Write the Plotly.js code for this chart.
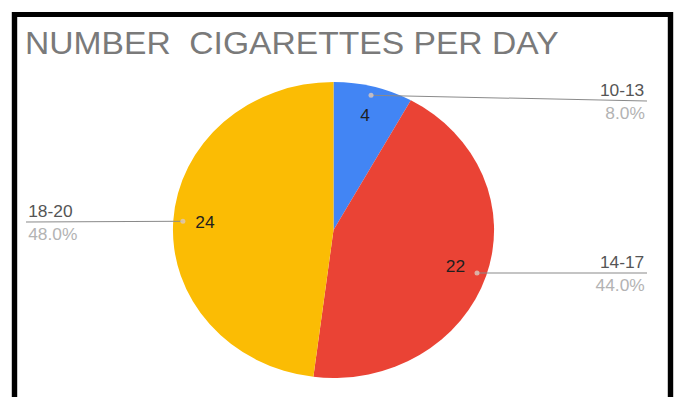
<!DOCTYPE html>
<html>
<head>
<meta charset="utf-8">
<script src="https://cdn.plot.ly/plotly-3.0.1.min.js"></script>
<style>
html,body{margin:0;padding:0;background:#fff;overflow:hidden;}
#chart{width:625px;height:397px;transform:scaleX(1.0848);transform-origin:0 0;}
</style>
</head>
<body>
<div id="chart"></div>
<script>
// ---- data ----
const categories = ['10-13', '14-17', '18-20'];
const values = [4, 22, 24];
const chartTitle = 'NUMBER\u00a0 CIGARETTES PER DAY';

// ---- styling / layout constants ----
const colors = ['#4285F4', '#EA4335', '#FBBC04'];
const SX = 1.0848;                 // horizontal stretch of the reference image
const W = 625, H = 397;            // internal plot size (before stretch)
const CX = 333.5, CY = 230, R = 148;   // pie centre (screen px) / radius
const labelLineY = [101, 273, 222];    // y of leader-line ends (px)
const rightX = 647, leftX = 26;        // screen px

const px = x => (x / SX) / W;      // screen px -> paper
const py = y => 1 - y / H;
const FONT = 'Liberation Sans, Arial, sans-serif';

const total = values.reduce((a, b) => a + b, 0);
const annotations = [];
const shapes = [];

// outer black frame
shapes.push({type: 'rect', xref: 'paper', yref: 'paper',
  x0: px(14.5), x1: px(670.5), y0: py(420), y1: py(14.5),
  line: {color: '#000', width: 5}, fillcolor: 'rgba(0,0,0,0)', layer: 'above'});

let cum = 0;
values.forEach((v, i) => {
  const mid = (cum + v / 2) / total * 2 * Math.PI;
  cum += v;
  const s = Math.sin(mid), c = Math.cos(mid);
  const RX = R * SX;
  // value label inside slice
  annotations.push({xref: 'paper', yref: 'paper',
    x: px(CX + 0.8 * RX * s), y: py(CY - 0.8 * R * c),
    text: String(v), showarrow: false, xanchor: 'center', yanchor: 'middle',
    font: {family: FONT, size: 16, color: '#1f1f1f'}});
  // leader line
  const dx = CX + 0.94 * RX * s, dy = CY - 0.94 * R * c;
  const right = s >= 0;
  const ex = right ? rightX : leftX;
  const ey = labelLineY[i];
  shapes.push({type: 'line', xref: 'paper', yref: 'paper',
    x0: px(dx), y0: py(dy), x1: px(ex), y1: py(ey),
    line: {color: '#8a8a8a', width: 1}});
  shapes.push({type: 'circle', xref: 'paper', yref: 'paper',
    x0: px(dx - 2.5), x1: px(dx + 2.5), y0: py(dy - 2.5), y1: py(dy + 2.5),
    line: {width: 0}, fillcolor: 'rgba(220,200,190,0.8)'});
  // category + percent labels
  annotations.push({xref: 'paper', yref: 'paper', x: px(ex), y: py(ey - 11),
    text: categories[i], showarrow: false, xanchor: right ? 'right' : 'left', yanchor: 'middle',
    font: {family: FONT, size: 16, color: '#555555'}});
  annotations.push({xref: 'paper', yref: 'paper', x: px(ex), y: py(ey + 12),
    text: (v / total * 100).toFixed(1) + '%', showarrow: false, xanchor: right ? 'right' : 'left', yanchor: 'middle',
    font: {family: FONT, size: 16, color: '#b3b3b3'}});
});

const trace = {
  type: 'pie',
  labels: categories,
  values: values,
  sort: false,
  direction: 'clockwise',
  rotation: 0,
  textinfo: 'none',
  hoverinfo: 'label+value+percent',
  marker: {colors: colors, line: {width: 0}},
  domain: {x: [px(CX) - R / W, px(CX) + R / W], y: [py(CY + R), py(CY - R)]},
  showlegend: false
};

const layout = {
  width: W, height: H,
  margin: {l: 0, r: 0, t: 0, b: 0},
  paper_bgcolor: '#ffffff',
  plot_bgcolor: '#ffffff',
  showlegend: false,
  title: {text: chartTitle, x: px(25), xanchor: 'left', xref: 'paper',
    y: py(43), yanchor: 'middle', yref: 'paper',
    font: {family: FONT, size: 31, color: '#7a7a7a'}},
  annotations: annotations,
  shapes: shapes
};

Plotly.newPlot('chart', [trace], layout, {displayModeBar: false, staticPlot: true});
</script>
</body>
</html>
